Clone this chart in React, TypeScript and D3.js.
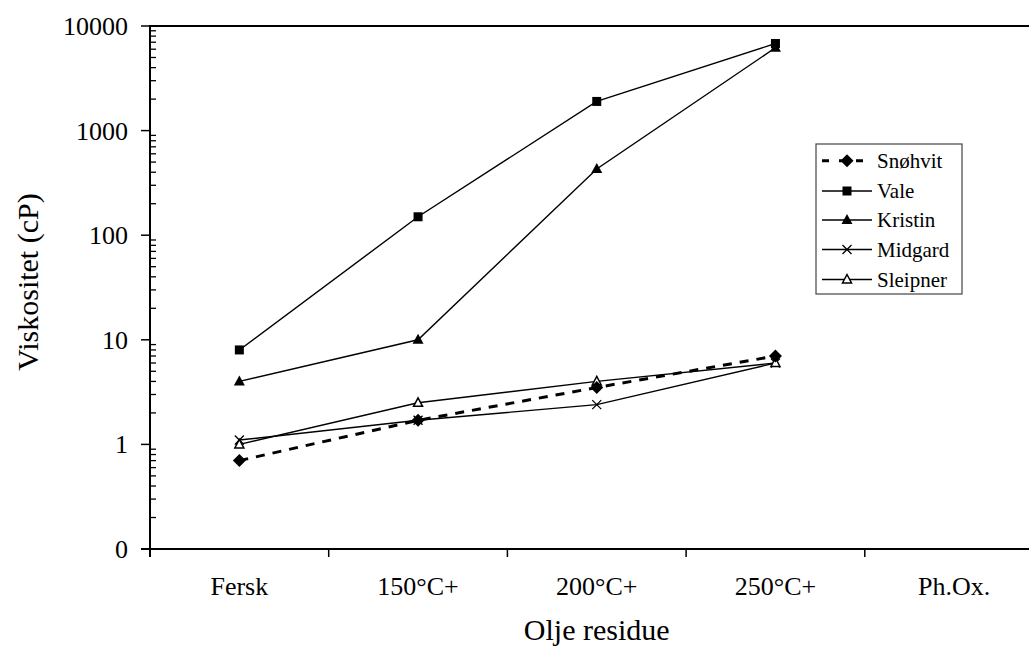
import React from "react";
import * as d3 from "d3";

const categories = ["Fersk", "150°C+", "200°C+", "250°C+", "Ph.Ox."];
const seriesNames = ["Snøhvit", "Vale", "Kristin", "Midgard", "Sleipner"];
const snohvit = [0.7, 1.7, 3.5, 7];
const vale = [8, 150, 1900, 6800];
const kristin = [4, 10, 430, 6200];
const midgard = [1.1, 1.7, 2.4, 6];
const sleipner = [1.0, 2.5, 4, 6];
const yTickValues = [0.1, 1, 10, 100, 1000, 10000];
const yTickLabels = ["0", "1", "10", "100", "1000", "10000"];

const W = 1029;
const H = 648;
const FONT = "Liberation Serif";

type Marker = "diamond" | "square" | "triangle" | "x" | "opentriangle";

const seriesData: { name: string; values: number[]; marker: Marker; dashed: boolean }[] = [
  { name: seriesNames[0], values: snohvit, marker: "diamond", dashed: true },
  { name: seriesNames[1], values: vale, marker: "square", dashed: false },
  { name: seriesNames[2], values: kristin, marker: "triangle", dashed: false },
  { name: seriesNames[3], values: midgard, marker: "x", dashed: false },
  { name: seriesNames[4], values: sleipner, marker: "opentriangle", dashed: false },
];

function MarkerShape({ type, x, y }: { type: Marker; x: number; y: number }) {
  if (type === "square") {
    return <rect x={x - 4.5} y={y - 4.5} width={9} height={9} fill="#000" />;
  }
  if (type === "diamond") {
    return <path d={`M${x},${y - 6.5}L${x + 6.5},${y}L${x},${y + 6.5}L${x - 6.5},${y}Z`} fill="#000" />;
  }
  if (type === "triangle") {
    return <path d={`M${x},${y - 6}L${x + 5.5},${y + 4}L${x - 5.5},${y + 4}Z`} fill="#000" />;
  }
  if (type === "opentriangle") {
    return (
      <path
        d={`M${x},${y - 5}L${x + 4.5},${y + 3.5}L${x - 4.5},${y + 3.5}Z`}
        fill="#fff"
        stroke="#000"
        strokeWidth={1.5}
      />
    );
  }
  return (
    <path
      d={`M${x - 4.5},${y - 4.5}L${x + 4.5},${y + 4.5}M${x + 4.5},${y - 4.5}L${x - 4.5},${y + 4.5}`}
      stroke="#000"
      strokeWidth={1.3}
      fill="none"
    />
  );
}

export default function App() {
  const left = 150;
  const top = 26;
  const bottom = 549;
  const bandW = 178.7;
  const x = d3
    .scaleBand<string>()
    .domain(categories)
    .range([left, left + bandW * categories.length])
    .paddingInner(0)
    .paddingOuter(0);
  const y = d3.scaleLog().domain([0.1, 10000]).range([bottom, top]);
  const cx = (c: string) => (x(c) as number) + x.bandwidth() / 2;

  const line = d3
    .line<number>()
    .x((_, i) => cx(categories[i]))
    .y((d) => y(d));

  const minorTicks: number[] = [];
  for (let e = -1; e < 4; e++) {
    for (let m = 2; m <= 9; m++) minorTicks.push(m * Math.pow(10, e));
  }

  const drawOrder = [1, 2, 3, 4, 0];
  const right = left + bandW * categories.length;

  const legX = 816;
  const legY = 144;
  const legRows = [160.7, 191, 220, 249.5, 279.5];

  return (
    <svg
      width={W}
      height={H}
      style={{ position: "absolute", left: 0, top: 0, background: "#fff", fontFamily: FONT }}
    >
      <rect x={0} y={0} width={W} height={H} fill="#fff" />
      {/* top border */}
      <line x1={left} x2={right} y1={top} y2={top} stroke="#000" strokeWidth={2} />
      {/* y axis */}
      <line x1={left} x2={left} y1={top - 1} y2={bottom + 8} stroke="#000" strokeWidth={2} />
      {yTickValues.map((v, i) => (
        <g key={"yt" + i}>
          <line x1={left - 9} x2={left} y1={y(v)} y2={y(v)} stroke="#000" strokeWidth={1.5} />
          <text x={128} y={y(v) + 9} textAnchor="end" fontSize={26} fill="#000">
            {yTickLabels[i]}
          </text>
        </g>
      ))}
      {minorTicks.map((v, i) => (
        <line key={"mt" + i} x1={left} x2={left + 6} y1={y(v)} y2={y(v)} stroke="#000" strokeWidth={1.3} />
      ))}
      {/* x axis */}
      <line x1={left - 9} x2={right} y1={bottom} y2={bottom} stroke="#000" strokeWidth={2} />
      {categories.slice(1).map((c) => (
        <line
          key={"xt" + c}
          x1={x(c) as number}
          x2={x(c) as number}
          y1={bottom}
          y2={bottom + 8}
          stroke="#000"
          strokeWidth={1.5}
        />
      ))}
      {categories.map((c) => (
        <text key={"xl" + c} x={cx(c)} y={595} textAnchor="middle" fontSize={26} fill="#000">
          {c}
        </text>
      ))}
      <text x={(left + right) / 2} y={640} textAnchor="middle" fontSize={30} fill="#000">
        Olje residue
      </text>
      <text transform={`translate(38,282) rotate(-90)`} textAnchor="middle" fontSize={30} fill="#000">
        Viskositet (cP)
      </text>
      {/* series */}
      {drawOrder.map((si) => {
        const s = seriesData[si];
        return (
          <g key={s.name}>
            <path
              d={line(s.values) || ""}
              fill="none"
              stroke="#000"
              strokeWidth={s.dashed ? 3 : 1.4}
              strokeDasharray={s.dashed ? "9,8" : undefined}
            />
            {s.values.map((v, i) => (
              <MarkerShape key={i} type={s.marker} x={cx(categories[i])} y={y(v)} />
            ))}
          </g>
        );
      })}
      {/* legend */}
      <rect x={legX} y={legY} width={146} height={150} fill="#fff" stroke="#444" strokeWidth={1.2} />
      {seriesData.map((s, i) => (
        <g key={"leg" + s.name}>
          <line
            x1={822}
            x2={872}
            y1={legRows[i]}
            y2={legRows[i]}
            stroke="#000"
            strokeWidth={s.dashed ? 3 : 1.4}
            strokeDasharray={s.dashed ? "7,10" : undefined}
          />
          <MarkerShape type={s.marker} x={847} y={legRows[i]} />
          <text x={877} y={legRows[i] + 7} fontSize={21} fill="#000">
            {s.name}
          </text>
        </g>
      ))}
    </svg>
  );
}
